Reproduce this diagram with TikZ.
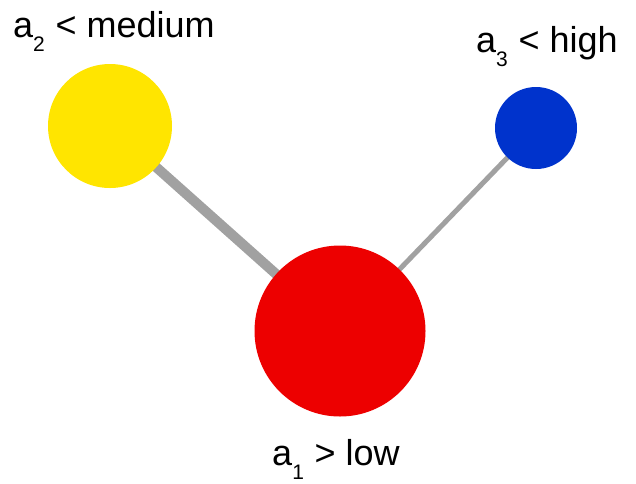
\documentclass[tikz,border=0pt]{standalone}
\usepackage{fontspec}
\setmainfont{Liberation Sans}
\usetikzlibrary{backgrounds}
\definecolor{LowClr}{rgb}{0.93,0,0}
\definecolor{MediumClr}{rgb}{1,0.9,0}
\definecolor{HighClr}{rgb}{0,0.2,0.8}
\definecolor{LinkClr}{rgb}{0.63,0.63,0.63}
\newcommand{\attr}[3]{a\raisebox{-0.4em}{\fontsize{21}{21}\selectfont #1}\hspace{0.3em}#2 #3}

\begin{document}
\begin{tikzpicture}[x=1pt,y=-1pt,
  ball/.style={circle,inner sep=0pt,outer sep=0pt},
  tag/.style={anchor=base,inner sep=0pt,font=\fontsize{36}{44}\selectfont}]
\useasboundingbox (0,0) rectangle (636,483);

\node[ball,fill=MediumClr,minimum size=124pt] (a2) at (110,126) {};
\node[ball,fill=HighClr,minimum size=82pt] (a3) at (536,128) {};
\node[ball,fill=LowClr,minimum size=171pt] (a1) at (340,331) {};

\begin{scope}[on background layer]
\draw[LinkClr,line width=10pt] (a2.center) -- (a1.center);
\draw[LinkClr,line width=5pt] (a3.center) -- (a1.center);
\end{scope}

\node[tag] (t2) at (114,37) {\attr{2}{<}{medium}};
\node[tag] (t3) at (547,52) {\attr{3}{<}{high}};
\node[tag] (t1) at (336,465) {\attr{1}{>}{low}};

\end{tikzpicture}
\end{document}
